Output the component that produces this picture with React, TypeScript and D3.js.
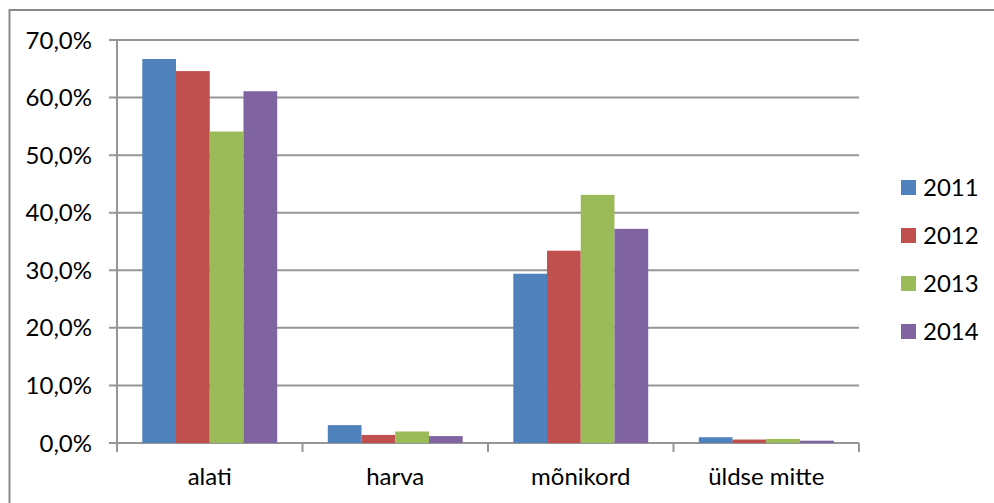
import React from "react";
import * as d3 from "d3";

const categories = ["alati", "harva", "mõnikord", "üldse mitte"];
const seriesNames = ["2011", "2012", "2013", "2014"];
const v2011 = [66.7, 3.1, 29.4, 1.0];
const v2012 = [64.6, 1.4, 33.4, 0.6];
const v2013 = [54.1, 2.0, 43.1, 0.7];
const v2014 = [61.1, 1.2, 37.2, 0.4];
const yTicks = [0, 10, 20, 30, 40, 50, 60, 70];
const colors = ["#4F81BD", "#C0504D", "#9BBB59", "#8064A2"];

const seriesValues = [v2011, v2012, v2013, v2014];

export default function App() {
  const W = 994, H = 503;
  const left = 117, right = 859, top = 40, bottom = 443;
  const font = "Lato, 'Open Sans', sans-serif";
  const fs = 24;
  const x = d3.scaleBand<string>().domain(categories).range([left, right]).paddingInner(0).paddingOuter(0);
  const bw = x.bandwidth();
  const barW = bw / 5.5;
  const y = d3.scaleLinear().domain([0, 70]).range([bottom, top]);
  const grid = "#969696";
  const fmt = (d: number) => d.toFixed(1).replace(".", ",") + "%";

  return (
    <svg width={W} height={H} style={{ position: "absolute", left: 0, top: 0 }} fontFamily={font}>
      <rect x={0} y={0} width={W} height={H} fill="#fff" />
      <rect x={9.5} y={10} width={W + 20} height={H + 20} fill="none" stroke="#8a8a8a" strokeWidth={2} />
      {yTicks.map((t) => (
        <g key={t}>
          <line x1={left - 8} x2={right} y1={y(t)} y2={y(t)} stroke={grid} strokeWidth={2} />
          <text x={92} y={y(t) + 8.5} textAnchor="end" fontSize={fs} fill="#000">{fmt(t)}</text>
        </g>
      ))}
      <line x1={left} x2={left} y1={top} y2={bottom + 9} stroke={grid} strokeWidth={2} />
      {[...categories.map((c) => x(c) as number), right].map((px, i) => (
        <line key={i} x1={px} x2={px} y1={bottom} y2={bottom + 9} stroke={grid} strokeWidth={2} />
      ))}
      {seriesValues.map((vals, si) =>
        vals.map((v, ci) => {
          const x0 = (x(categories[ci]) as number) + barW * 0.75 + si * barW;
          return (
            <rect key={`${si}-${ci}`} x={x0} y={y(v)} width={barW} height={bottom - y(v)} fill={colors[si]} />
          );
        })
      )}
      {categories.map((c) => (
        <text key={c} x={(x(c) as number) + bw / 2} y={485} textAnchor="middle" fontSize={fs} fill="#000">{c}</text>
      ))}
      {seriesNames.map((n, i) => (
        <g key={n}>
          <rect x={901} y={180 + i * 48} width={15} height={15} fill={colors[i]} />
          <text x={923} y={196 + i * 48} fontSize={fs} fill="#000">{n}</text>
        </g>
      ))}
    </svg>
  );
}
